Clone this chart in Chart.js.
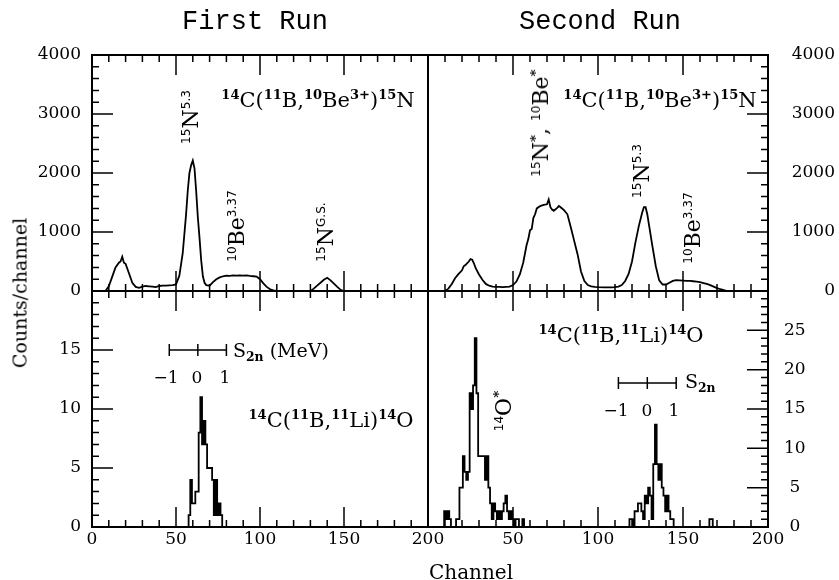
<!DOCTYPE html>
<html>
<head>
<meta charset="utf-8">
<script src="https://cdn.jsdelivr.net/npm/chart.js@4.4.1/dist/chart.umd.min.js"></script>
<style>
  body { margin: 0; background: #fff; }
  #wrap { position: relative; width: 839px; height: 580px; overflow: hidden; background: #fff;
          font-family: "DejaVu Serif", serif; color: #000; }
  canvas { position: absolute; left: 0; top: 0; }
  .c { position: absolute; transform: translate(-50%, -50%); white-space: nowrap; line-height: 1; }
  .r { transform: translate(-50%, -50%) rotate(-90deg); }
  .sp { font-size: 0.62em; position: relative; top: -0.6em; font-weight: bold; }
  .ss { font-family: "DejaVu Sans", sans-serif; font-size: 0.55em; position: relative; top: -0.7em; }
  .sb { font-size: 0.65em; position: relative; top: 0.3em; font-weight: bold; }
  .mono { font-family: "Liberation Mono", monospace; font-size: 27px; }
</style>
</head>
<body>
<div id="wrap">
  <canvas id="tl" width="839" height="580"></canvas>
  <canvas id="tr" width="839" height="580"></canvas>
  <canvas id="bl" width="839" height="580"></canvas>
  <canvas id="br" width="839" height="580"></canvas>

  <div class="c mono" style="left:255px;top:22px">First Run</div>
  <div class="c mono" style="left:600px;top:22px">Second Run</div>
  <div class="c r" style="left:20px;top:293px;font-size:19px">Counts/channel</div>
  <div class="c" style="left:471px;top:572px;font-size:20px">Channel</div>

  <!-- first run, top -->
  <div class="c" style="left:318px;top:100px;font-size:21px"><span class="sp">14</span>C(<span class="sp">11</span>B,<span class="sp">10</span>Be<span class="sp">3+</span>)<span class="sp">15</span>N</div>
  <div class="c r" style="left:191px;top:117px;font-size:22px"><span class="ss">15</span>N<span class="ss">5.3</span></div>
  <div class="c r" style="left:237px;top:226px;font-size:22px"><span class="ss">10</span>Be<span class="ss">3.37</span></div>
  <div class="c r" style="left:326px;top:232px;font-size:22px"><span class="ss">15</span>N<span class="ss">G.S.</span></div>

  <!-- second run, top -->
  <div class="c" style="left:660px;top:100px;font-size:21px"><span class="sp">14</span>C(<span class="sp">11</span>B,<span class="sp">10</span>Be<span class="sp">3+</span>)<span class="sp">15</span>N</div>
  <div class="c r" style="left:541px;top:123px;font-size:22px"><span class="ss">15</span>N<span class="sp">*</span>, <span class="ss">10</span>Be<span class="sp">*</span></div>
  <div class="c r" style="left:642px;top:171px;font-size:22px"><span class="ss">15</span>N<span class="ss">5.3</span></div>
  <div class="c r" style="left:693px;top:228px;font-size:22px"><span class="ss">10</span>Be<span class="ss">3.37</span></div>

  <!-- first run, bottom -->
  <div class="c" style="left:233px;top:350px;font-size:19px;transform:translate(0,-50%)">S<span class="sb">2n</span> (MeV)</div>
  <div class="c" style="left:166px;top:377px;font-size:17px">&minus;1</div>
  <div class="c" style="left:197px;top:377px;font-size:17px">0</div>
  <div class="c" style="left:225px;top:377px;font-size:17px">1</div>
  <div class="c" style="left:331px;top:420px;font-size:21px"><span class="sp">14</span>C(<span class="sp">11</span>B,<span class="sp">11</span>Li)<span class="sp">14</span>O</div>

  <!-- second run, bottom -->
  <div class="c" style="left:621px;top:335px;font-size:21px"><span class="sp">14</span>C(<span class="sp">11</span>B,<span class="sp">11</span>Li)<span class="sp">14</span>O</div>
  <div class="c" style="left:685px;top:381px;font-size:19px;transform:translate(0,-50%)">S<span class="sb">2n</span></div>
  <div class="c" style="left:616px;top:410px;font-size:17px">&minus;1</div>
  <div class="c" style="left:647px;top:410px;font-size:17px">0</div>
  <div class="c" style="left:674px;top:410px;font-size:17px">1</div>
  <div class="c r" style="left:504px;top:411px;font-size:22px"><span class="ss">14</span>O<span class="sp">*</span></div>
</div>

<script>
// First run, 14C(11B,10Be3+)15N spectrum
const tlChannels = [8,10,12,14,16,17,18,19,20,22,24,26,28,30,32,34,36,38,40,42,44,46,48,
  50,52,54,56,57,58,59,60,61,62,63,64,65,66,67,68,
  70,72,74,76,78,80,82,84,86,88,90,92,94,96,98,100,102,104,106,108,110,
  130,132,134,136,138,140,142,144,146,148,150];
const tlCounts = [0,80,240,400,480,500,580,480,460,300,140,70,55,75,85,80,75,65,85,90,90,95,100,
  110,260,640,1300,1700,2000,2130,2210,2080,1700,1250,900,520,250,140,100,
  90,150,200,230,250,260,255,265,260,265,260,265,255,250,245,200,130,70,30,10,0,
  0,40,90,140,190,225,180,125,70,20,0];

// Second run, 14C(11B,10Be3+)15N spectrum
const trChannels = [10,12,14,16,18,19,20,21,22,24,25,26,27,28,
  30,32,34,36,38,40,42,44,46,48,50,52,54,56,58,59,60,61,62,63,64,66,68,70,
  71,72,73,74,76,77,78,80,82,84,86,88,90,92,94,96,98,100,104,108,
  110,112,114,116,118,120,122,124,126,127,128,129,130,
  132,134,136,138,140,142,144,146,148,150,152,154,156,158,160,162,164,166,168,170,172,174,176];
const trCounts = [0,40,120,220,290,320,350,420,440,500,540,530,470,390,
  280,190,120,90,75,70,70,65,70,75,100,160,280,480,780,880,1030,1050,1240,1300,1400,1440,1460,1470,
  1550,1420,1380,1360,1410,1440,1420,1370,1300,1080,850,620,330,170,100,80,70,65,60,60,
  65,75,100,170,290,500,820,1100,1330,1420,1420,1300,1120,
  760,420,180,110,110,140,170,185,180,175,170,170,165,160,150,135,120,100,75,50,30,15,0];

// First run, 14C(11B,11Li)14O counts, channels 57..78
const blChannels = [57,58,59,60,61,62,63,64,65,66,67,68,69,70,71,72,73,74,75,76,77,78];
const blCounts   = [0, 1, 4, 2, 2, 3, 3, 8, 11,7, 9, 7, 5, 5, 5, 4, 1, 4, 1, 2, 1, 0];

// Second run, 14C(11B,11Li)14O counts
const brChannels = [9,10,11,12,13,14,16,17,18,19,20,21,22,23,24,25,26,27,28,29,30,31,32,33,34,35,36,37,38,39,
  40,41,42,43,44,45,46,47,48,49,50,51,52,53,54,55,56,57,
  118,119,120,121,122,123,124,125,126,127,128,129,130,131,132,133,134,135,136,137,138,139,140,141,142,143,144,145,
  165,166,167,168];
const brCounts = [0,2,1,2,1,0,0,1,1,5,5,9,7,6,7,17,15,18,24,17,9,9,9,9,6,9,5,3,1,3,
  2,1,2,1,2,3,4,2,1,2,1,0,1,1,0,0,1,0,
  0,1,1,0,2,2,3,3,2,1,4,3,5,4,1,8,13,8,6,8,5,4,2,4,2,1,1,0,
  0,1,1,0];

const xTicks = [0, 50, 100, 150, 200];
const font = { family: 'DejaVu Serif', size: 17 };

// frame, inward ticks and the S2n scale bar
const frameTicks = {
  id: 'frame',
  afterDatasetsDraw(chart, args, o) {
    const { ctx, chartArea: a, scales: { x, y } } = chart;
    ctx.save();
    ctx.strokeStyle = '#000';
    ctx.lineWidth = 2;
    ctx.strokeRect(a.left, a.top, a.width, a.height);
    ctx.lineWidth = 1.5;
    ctx.beginPath();
    for (let v = 0; v <= 200; v += 10) {
      const px = x.getPixelForValue(v);
      const len = v % 50 === 0 ? 20 : 7;
      ctx.moveTo(px, a.bottom); ctx.lineTo(px, a.bottom - len);
      ctx.moveTo(px, a.top); ctx.lineTo(px, a.top + len);
    }
    for (let v = 0; v <= o.yMax; v += o.yMinor) {
      const py = y.getPixelForValue(v);
      const len = v % o.yMajor === 0 ? 21 : 7;
      if (o.side === 'left') { ctx.moveTo(a.left, py); ctx.lineTo(a.left + len, py); }
      else { ctx.moveTo(a.right, py); ctx.lineTo(a.right - len, py); }
    }
    if (o.bar) {
      const py = y.getPixelForValue(o.bar.y);
      const b = o.bar.ticks;
      ctx.moveTo(x.getPixelForValue(b[0]), py);
      ctx.lineTo(x.getPixelForValue(b[b.length - 1]), py);
      b.forEach(t => {
        const px = x.getPixelForValue(t);
        ctx.moveTo(px, py - 6); ctx.lineTo(px, py + 6);
      });
    }
    ctx.stroke();
    ctx.restore();
  }
};

function panel(id, c) {
  const pts = c.channels.map((ch, i) => ({ x: ch, y: c.counts[i] }));
  return new Chart(document.getElementById(id), {
    type: 'line',
    data: {
      datasets: [{
        data: pts,
        borderColor: '#000',
        borderWidth: 1.8,
        pointRadius: 0,
        stepped: c.stepped,
        tension: 0,
        fill: false
      }]
    },
    options: {
      responsive: false,
      animation: false,
      events: [],
      layout: { padding: c.pad },
      plugins: {
        legend: { display: false },
        tooltip: { enabled: false },
        frame: { side: c.side, yMax: c.yMax, yMinor: c.yMinor, yMajor: c.yMajor, bar: c.bar }
      },
      scales: {
        x: {
          type: 'linear', min: 0, max: 200,
          display: c.xLabels,
          grid: { display: false, drawTicks: false },
          border: { display: false },
          afterBuildTicks: s => { s.ticks = xTicks.map(v => ({ value: v })); },
          ticks: {
            autoSkip: false, maxRotation: 0, padding: 2, font, color: '#000',
            callback: v => (c.hideX0 && v === 0) ? '' : String(v)
          },
          afterFit: s => { s.height = c.xLabels ? 30 : 0; }
        },
        y: {
          type: 'linear', position: c.side, min: 0, max: c.yMax,
          grid: { display: false, drawTicks: false },
          border: { display: false },
          ticks: {
            stepSize: c.yStep, autoSkip: false, padding: c.tickPad, font, color: '#000',
            crossAlign: c.cross,
            callback: v => v === c.hideY ? '' : String(v)
          },
          afterFit: s => { s.width = c.yWidth; }
        }
      }
    },
    plugins: [frameTicks]
  });
}

panel('tl', {
  channels: tlChannels, counts: tlCounts, stepped: false,
  pad: { left: 32, right: 411, top: 55, bottom: 289 },
  xLabels: false, side: 'left', yMax: 4000, yStep: 1000, yMinor: 200, yMajor: 1000,
  yWidth: 60, tickPad: 11, cross: 'near', hideY: null
});
panel('tr', {
  channels: trChannels, counts: trCounts, stepped: false,
  pad: { left: 428, right: 4, top: 55, bottom: 289 },
  xLabels: false, side: 'right', yMax: 4000, yStep: 1000, yMinor: 200, yMajor: 1000,
  yWidth: 67, tickPad: 10, cross: 'far', hideY: null
});
panel('bl', {
  channels: blChannels, counts: blCounts, stepped: 'middle',
  pad: { left: 32, right: 411, top: 291, bottom: 23 },
  xLabels: true, side: 'left', yMax: 20, yStep: 5, yMinor: 1, yMajor: 5,
  yWidth: 60, tickPad: 11, cross: 'near', hideY: 20,
  bar: { y: 15, ticks: [46, 63, 80] }
});
panel('br', {
  channels: brChannels, counts: brCounts, stepped: 'middle',
  pad: { left: 428, right: 4, top: 291, bottom: 23 },
  xLabels: true, hideX0: true, side: 'right', yMax: 30, yStep: 5, yMinor: 1, yMajor: 5,
  yWidth: 67, tickPad: 16, cross: 'center', hideY: 30,
  bar: { y: 18.3, ticks: [112, 129, 146] }
});
</script>
</body>
</html>
